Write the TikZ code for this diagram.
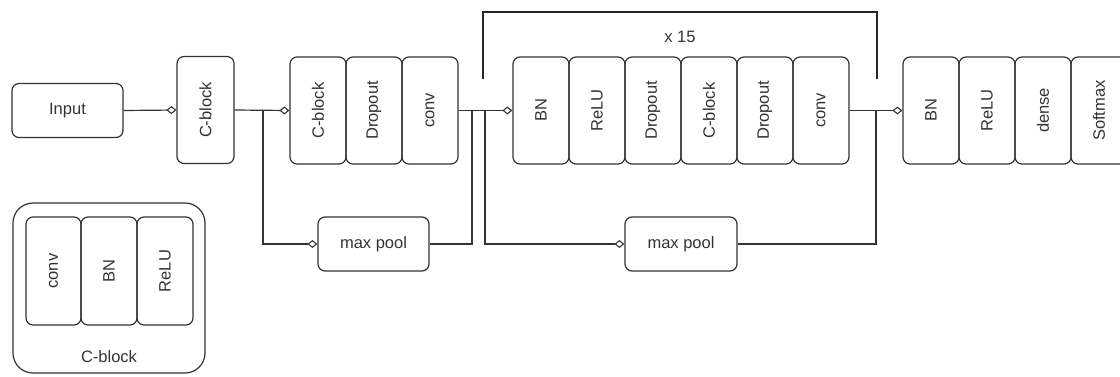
\documentclass[tikz,border=0pt]{standalone}
\usepackage{fontspec}
\setmainfont{Liberation Sans}
\usetikzlibrary{arrows.meta}
\definecolor{ink}{HTML}{333333}
\tikzset{
  box/.style={draw=ink, line width=1.2pt, rounded corners=7pt, inner sep=0pt, text=ink,
    font=\fontsize{16.5}{19}\selectfont},
  vblk/.style={box, minimum width=56pt, minimum height=107pt},
  hblk/.style={box, minimum width=111pt, minimum height=54pt},
  conn/.style={draw=ink, line width=1.2pt},
  dtip/.style={conn, -{Diamond[open, length=10pt, width=8pt, line width=1.1pt]}},
}
\newcommand{\vt}[1]{\rotatebox{90}{#1}}
\begin{document}
\begin{tikzpicture}[x=1pt,y=-1pt]
\useasboundingbox (0,0) rectangle (1120,376);
\clip (0,0) rectangle (1120,376);
% main row
\node[hblk] (input) at (67.5,110.5) {Input};
\node[vblk, minimum width=57pt] (cb1) at (205.5,110) {\vt{C-block}};
\node[vblk] (g2a) at (318,110.5) {\vt{C-block}};
\node[vblk] (g2b) at (374,110.5) {\vt{Dropout}};
\node[vblk] (g2c) at (430,110.5) {\vt{conv}};
\node[hblk] (mp1) at (373.5,244) {max pool};
\node[vblk] (g3a) at (541,110.5) {\vt{BN}};
\node[vblk] (g3b) at (597,110.5) {\vt{ReLU}};
\node[vblk] (g3c) at (653,110.5) {\vt{Dropout}};
\node[vblk] (g3d) at (709,110.5) {\vt{C-block}};
\node[vblk] (g3e) at (765,110.5) {\vt{Dropout}};
\node[vblk] (g3f) at (821,110.5) {\vt{conv}};
\node[hblk, minimum width=112pt] (mp2) at (681,244) {max pool};
\node[vblk] (g4a) at (931,110.5) {\vt{BN}};
\node[vblk] (g4b) at (987,110.5) {\vt{ReLU}};
\node[vblk] (g4c) at (1043,110.5) {\vt{dense}};
\node[vblk] (g4d) at (1099,110.5) {\vt{Softmax}};
% junctions
\coordinate (j1) at (263,110);
\coordinate (j2) at (472,110.5);
\coordinate (j3) at (485,110.5);
\coordinate (j4) at (876,110.5);
% connectors
\draw[dtip] (input.east) -- (cb1.west);
\draw[dtip] (cb1.east) -- (g2a.west);
\draw[dtip] (j1) |- (mp1.west);
\draw[dtip] (g2c.east) -- (g3a.west);
\draw[conn] (mp1.east) -| (j2);
\draw[dtip] (j3) |- (mp2.west);
\draw[dtip] (g3f.east) -- (g4a.west);
\draw[conn] (mp2.east) -| (j4);
% repeat bracket
\coordinate (bl) at (483,79);
\coordinate (br) at (877,79);
\draw[draw=black!85, line width=2.4pt] (bl) |- (680,12) -| (br);
\node[text=ink, font=\fontsize{16.5}{19}\selectfont] (rep) at (680,37) {x 15};
% legend
\node[draw=ink, line width=1.2pt, rounded corners=20pt, minimum width=192pt, minimum height=170pt, inner sep=0pt] (leg) at (109,288) {};
\node[vblk, minimum height=108pt, minimum width=55pt] (la) at (53.5,271) {\vt{conv}};
\node[vblk, minimum height=108pt] (lb) at (109,271) {\vt{BN}};
\node[vblk, minimum height=108pt] (lc) at (165,271) {\vt{ReLU}};
\node[text=ink, font=\fontsize{16.5}{19}\selectfont] (legl) at (109,357) {C-block};
\end{tikzpicture}
\end{document}
